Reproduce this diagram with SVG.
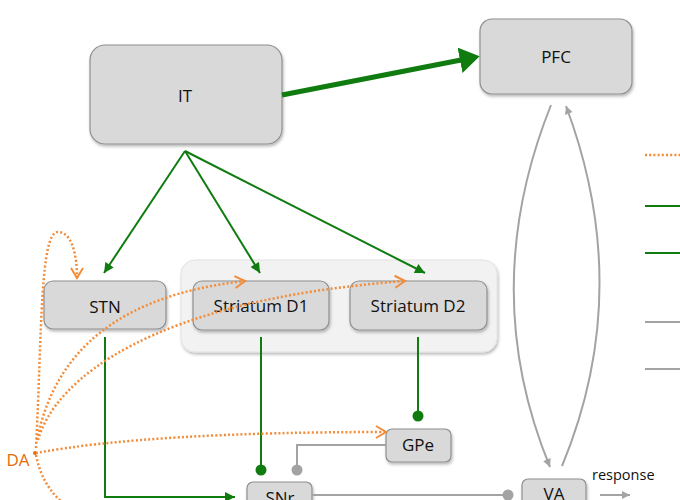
<svg xmlns="http://www.w3.org/2000/svg" width="680" height="500" viewBox="0 0 680 500">
<style>
.box{fill:#d9d9d9;stroke:#8f8f8f;stroke-width:1.2}
.cont{fill:#f2f2f2;stroke:#e2e2e2;stroke-width:1}
.lbl{font-family:"Open Sans","Liberation Sans",sans-serif;font-size:17px;fill:#111;text-anchor:middle}
.g{fill:none;stroke:#107c10;stroke-width:2}
.gt{fill:none;stroke:#107c10;stroke-width:5}
.gr{fill:none;stroke:#a3a3a3;stroke-width:2}
.o{fill:none;stroke:#f28c38;stroke-width:2.5;stroke-dasharray:2 2.2}
</style>
<defs>
<filter id="sh" x="-10%" y="-10%" width="130%" height="140%">
<feDropShadow dx="1" dy="2" stdDeviation="1.5" flood-color="#000" flood-opacity="0.28"/>
</filter>
<marker id="ga" markerUnits="userSpaceOnUse" viewBox="0 0 10 10" refX="10" refY="5" markerWidth="11" markerHeight="10" orient="auto"><path d="M0,0 L10,5 L0,10 z" fill="#107c10"/></marker>
<marker id="gbig" markerUnits="userSpaceOnUse" viewBox="0 0 20 26" refX="1" refY="13" markerWidth="20" markerHeight="26" orient="auto"><path d="M0,0 L20,13 L0,26 z" fill="#107c10"/></marker>
<marker id="oa" markerUnits="userSpaceOnUse" viewBox="-1 -1 12 14" refX="10" refY="6" markerWidth="12" markerHeight="14" orient="auto" overflow="visible"><path d="M0,0 L10,6 L0,12" fill="none" stroke="#f28c38" stroke-width="2"/></marker>
<marker id="gra" markerUnits="userSpaceOnUse" viewBox="0 0 10 10" refX="10" refY="5" markerWidth="9" markerHeight="8" orient="auto"><path d="M0,0 L10,5 L0,10 z" fill="#a3a3a3"/></marker>
</defs>

<g id="striatum-group"><rect class="cont" x="181" y="260" width="316" height="92" rx="14" filter="url(#sh)"/></g>

<g id="IT"><rect class="box" x="90" y="45" width="192" height="99" rx="15" filter="url(#sh)"/><text class="lbl" x="185" y="102">IT</text></g>
<g id="PFC"><rect class="box" x="480" y="19" width="152" height="75" rx="12" filter="url(#sh)"/><text class="lbl" x="556" y="63">PFC</text></g>
<g id="STN"><rect class="box" x="44" y="281" width="122" height="48" rx="9" filter="url(#sh)"/><text class="lbl" x="105" y="313">STN</text></g>
<g id="StriatumD1"><rect class="box" x="193" y="281" width="136" height="49" rx="9" filter="url(#sh)"/><text class="lbl" x="261" y="312">Striatum D1</text></g>
<g id="StriatumD2"><rect class="box" x="350" y="281" width="137" height="49" rx="9" filter="url(#sh)"/><text class="lbl" x="418" y="312">Striatum D2</text></g>
<g id="GPe"><rect class="box" x="386" y="429" width="65" height="33" rx="6" filter="url(#sh)"/><text class="lbl" x="418" y="451">GPe</text></g>
<g id="SNr"><rect class="box" x="247" y="482" width="65" height="34" rx="6" filter="url(#sh)"/><text class="lbl" x="280" y="504">SNr</text></g>
<g id="VA"><rect class="box" x="522" y="479" width="64" height="34" rx="6" filter="url(#sh)"/><text class="lbl" x="554" y="500">VA</text></g>
<g id="DA"><circle cx="35" cy="453" r="2" fill="#e46c0a"/><text x="18" y="466" style="font-family:'Open Sans','Liberation Sans',sans-serif;font-size:17px;fill:#e46c0a;text-anchor:middle">DA</text></g>
<g id="response-label"><text x="592" y="480" style="font-family:'Open Sans','Liberation Sans',sans-serif;font-size:14.5px;fill:#111">response</text></g>

<g id="connectors">
<path class="gt" d="M282,95 L461,60" marker-end="url(#gbig)"/>
<path class="g" d="M185,151 L104,273" marker-end="url(#ga)"/>
<path class="g" d="M185,151 L260,273" marker-end="url(#ga)"/>
<path class="g" d="M185,151 L425,273" marker-end="url(#ga)"/>
<path class="g" d="M105,337 V497 H235" marker-end="url(#ga)"/>
<path class="g" d="M261,337 V466"/><circle cx="261" cy="470" r="5.5" fill="#107c10"/>
<path class="g" d="M418,337 V412"/><circle cx="418" cy="416" r="5.5" fill="#107c10"/>
<path class="gr" d="M386,445 H297 V466"/><circle cx="297" cy="470" r="5.5" fill="#a3a3a3"/>
<path class="gr" d="M312,495 H503"/><circle cx="508" cy="495" r="5.5" fill="#a3a3a3"/>
<path class="gr" d="M551,105 Q477,290 550,467" marker-end="url(#gra)"/>
<path class="gr" d="M562,466 Q635,290 566,106" marker-end="url(#gra)"/>
<path class="gr" d="M600,495 H630" marker-end="url(#gra)"/>
<path class="o" d="M36,448 C42,330 40,232 58,232 C72,232 77,255 77,278" marker-end="url(#oa)"/>
<path class="o" d="M37,440 C55,350 120,295 245,281" marker-end="url(#oa)"/>
<path class="o" d="M38,440 C55,380 150,300 405,281" marker-end="url(#oa)"/>
<path class="o" d="M36,453 Q150,432 386,432" marker-end="url(#oa)"/>
<path class="o" d="M36,455 Q42,485 62,502"/>
</g>

<g id="legend">
<path class="o" d="M645,155 H680"/>
<path class="g" d="M645,206 H680"/>
<path class="g" d="M645,253 H680"/>
<path class="gr" d="M645,322 H680"/>
<path class="gr" d="M645,369 H680"/>
</g>
</svg>
